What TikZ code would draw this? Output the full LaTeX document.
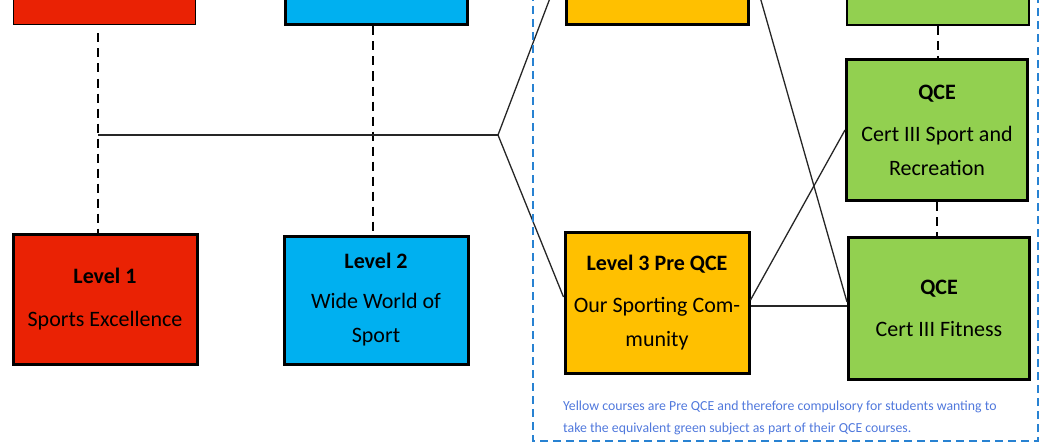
\documentclass[tikz,border=0pt]{standalone}
\usepackage{fontspec}
\setmainfont{Carlito}
\usepackage{xcolor}
\usetikzlibrary{calc}
\definecolor{lvred}{RGB}{234,34,4}
\definecolor{lvblue}{RGB}{0,176,240}
\definecolor{lvyellow}{RGB}{255,192,0}
\definecolor{lvgreen}{RGB}{146,208,80}
\definecolor{frameblue}{RGB}{40,130,210}
\definecolor{noteblue}{RGB}{80,120,220}
\tikzset{
    course/.style={draw=black, line width=3pt, inner sep=0pt, align=center,
        font=\fontsize{22}{34}\selectfont},
    topbox/.style={draw=black, line width=1.8pt, minimum width=182pt, minimum height=130pt},
    dashline/.style={line width=2pt, dash pattern=on 9pt off 6pt},
    link/.style={line width=1.3pt, black!85},
}

\begin{document}
\begin{tikzpicture}[x=1pt,y=-1pt]
    	\useasboundingbox (0,0) rectangle (1041,444);
    	\clip (0,0) rectangle (1041,444);
    	% boxes cut off at the top
    	\node[topbox, fill=lvred, line width=1pt] (l1top) at (104,-40) {};
    	\node[topbox, fill=lvblue, line width=3pt] (l2top) at (376,-40) {};
    	\node[topbox, fill=lvyellow, line width=3pt] (l3top) at (657,-40) {};
    	\node[topbox, fill=lvgreen] (qcetop) at (938,-40) {};
    	% course boxes
    	\node[course, fill=lvred, minimum width=184pt, minimum height=130pt] (lv1) at (105,299)
    	    {\textbf{Level 1}\\[9pt]Sports Excellence};
    	\node[course, fill=lvblue, minimum width=184pt, minimum height=128pt] (lv2) at (376,300)
    	    {\textbf{Level 2}\\[6pt]Wide World of\\Sport};
    	\node[course, fill=lvyellow, minimum width=184pt, minimum height=141pt] (lv3) at (657,303)
    	    {\textbf{Level 3 Pre QCE}\\[8pt]Our Sporting Com-\\munity};
    	\node[course, fill=lvgreen, minimum width=181pt, minimum height=141pt] (qsport) at (937,130)
    	    {\textbf{QCE}\\[8pt]Cert III Sport and\\Recreation};
    	\node[course, fill=lvgreen, minimum width=181pt, minimum height=142pt] (qfit) at (939,308)
    	    {\textbf{QCE}\\[8pt]Cert III Fitness};
    	% dashed links
    	\draw[dashline] ([xshift=-6pt,yshift=-8pt]l1top.south) -- ([xshift=-7pt]lv1.north);
    	\draw[dashline] ([xshift=-3pt]l2top.south) -- ([xshift=-3pt]lv2.north);
    	\draw[dashline] (qcetop.south) -- (qcetop.south |- qsport.north);
    	\draw[dashline] (qsport.south) -- (qsport.south |- qfit.north);
    	% solid links
    	\coordinate (jl) at (98,135);
    	\coordinate (j) at (498,135);
    	\draw[link] (jl) -- (j);
    	\draw[link] (j) -- (l3top.west);
    	\draw[link] (j) -- ([yshift=6pt]lv3.west);
    	\draw[link] (l3top.east) -- ([yshift=6pt]qfit.west);
    	\draw[link] ([yshift=3pt]lv3.east) -- (qsport.west);
    	\draw[link] ([yshift=-3pt]lv3.east) -- ([yshift=-3pt]lv3.east -| qfit.west);
    	% frame and note
    	\draw[frameblue, line width=1.2pt, dash pattern=on 8pt off 5pt] (533,-20) rectangle (1038,441);
    	\node[anchor=north west, align=left, text=noteblue, inner sep=0pt,
    	    font=\fontsize{13.8}{22}\selectfont] (note) at (563,401)
    	    {Yellow courses are Pre QCE and therefore compulsory for students wanting to\\
    	     take the equivalent green subject as part of their QCE courses.};
\end{tikzpicture}
\end{document}
